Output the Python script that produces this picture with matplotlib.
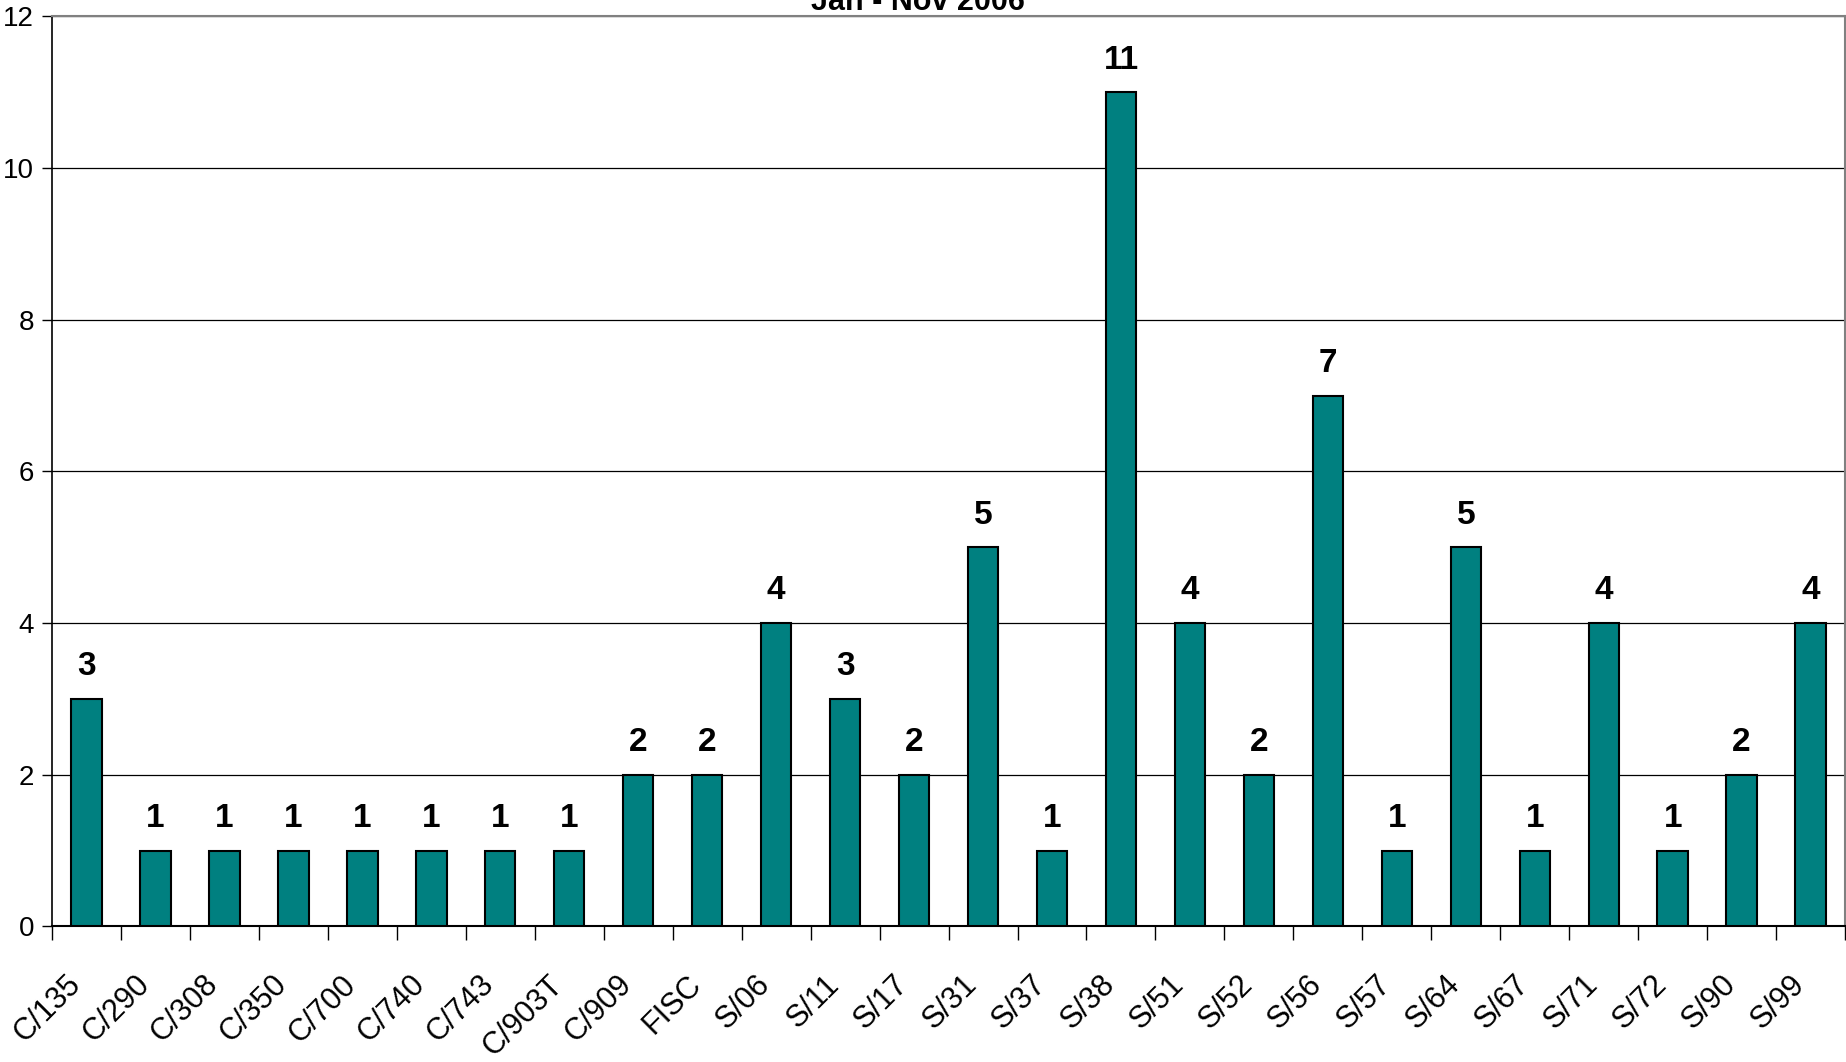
import matplotlib
matplotlib.use("Agg")
import matplotlib.pyplot as plt
import numpy as np

# --- data ---
categories = ["C/135", "C/290", "C/308", "C/350", "C/700", "C/740", "C/743",
              "C/903T", "C/909", "FISC", "S/06", "S/11", "S/17", "S/31",
              "S/37", "S/38", "S/51", "S/52", "S/56", "S/57", "S/64", "S/67",
              "S/71", "S/72", "S/90", "S/99"]
counts = [3, 1, 1, 1, 1, 1, 1, 1, 2, 2, 4, 3, 2, 5, 1, 11, 4, 2, 7, 1, 5, 1,
          4, 1, 2, 4]
y_ticks = [0, 2, 4, 6, 8, 10, 12]
title = "Jan - Nov 2006"

plt.rcParams["font.family"] = ["Liberation Sans", "DejaVu Sans"]

fig = plt.figure(figsize=(18.46, 10.62), dpi=100)
ax = fig.add_axes([0.0282, 0.1276, 0.9713, 0.8569])

x = np.arange(len(categories))
ax.bar(x, counts, width=0.44, color="#008080", edgecolor="black",
       linewidth=1.5, zorder=3)

# value labels above the bars
for xi, v in zip(x, counts):
    ax.annotate(str(v), (xi, v), xytext=(0, 12), textcoords="offset points",
                ha="center", va="bottom", fontsize=24, fontweight="bold")

# --- axes formatting ---
ax.set_xlim(-0.5, len(categories) - 0.5)
ax.set_ylim(0, 12)
ax.set_yticks(y_ticks)
ax.tick_params(axis="y", labelsize=20, length=7, width=1, pad=6)
ax.yaxis.grid(True, color="black", linewidth=0.9, zorder=0)

ax.set_xticks(x)
ax.set_xticklabels(categories, rotation=45, ha="right", va="top", fontsize=22)
ax.tick_params(axis="x", which="major", length=0, pad=31)
ax.set_xticks(np.arange(len(categories) + 1) - 0.5, minor=True)
ax.tick_params(axis="x", which="minor", length=10, width=1)

ax.spines["top"].set_color("#808080")
ax.spines["right"].set_color("#808080")
ax.spines["top"].set_linewidth(1.5)
ax.spines["right"].set_linewidth(1.5)
ax.spines["left"].set_linewidth(1.2)
ax.spines["bottom"].set_linewidth(1.5)

# title is cut off at the top edge of the image, as in the original
fig.text(918 / 1846, 1 - 10.5 / 1062, title, ha="center", va="baseline",
         fontsize=22, fontweight="bold")

fig.savefig("out.png", dpi=100)
